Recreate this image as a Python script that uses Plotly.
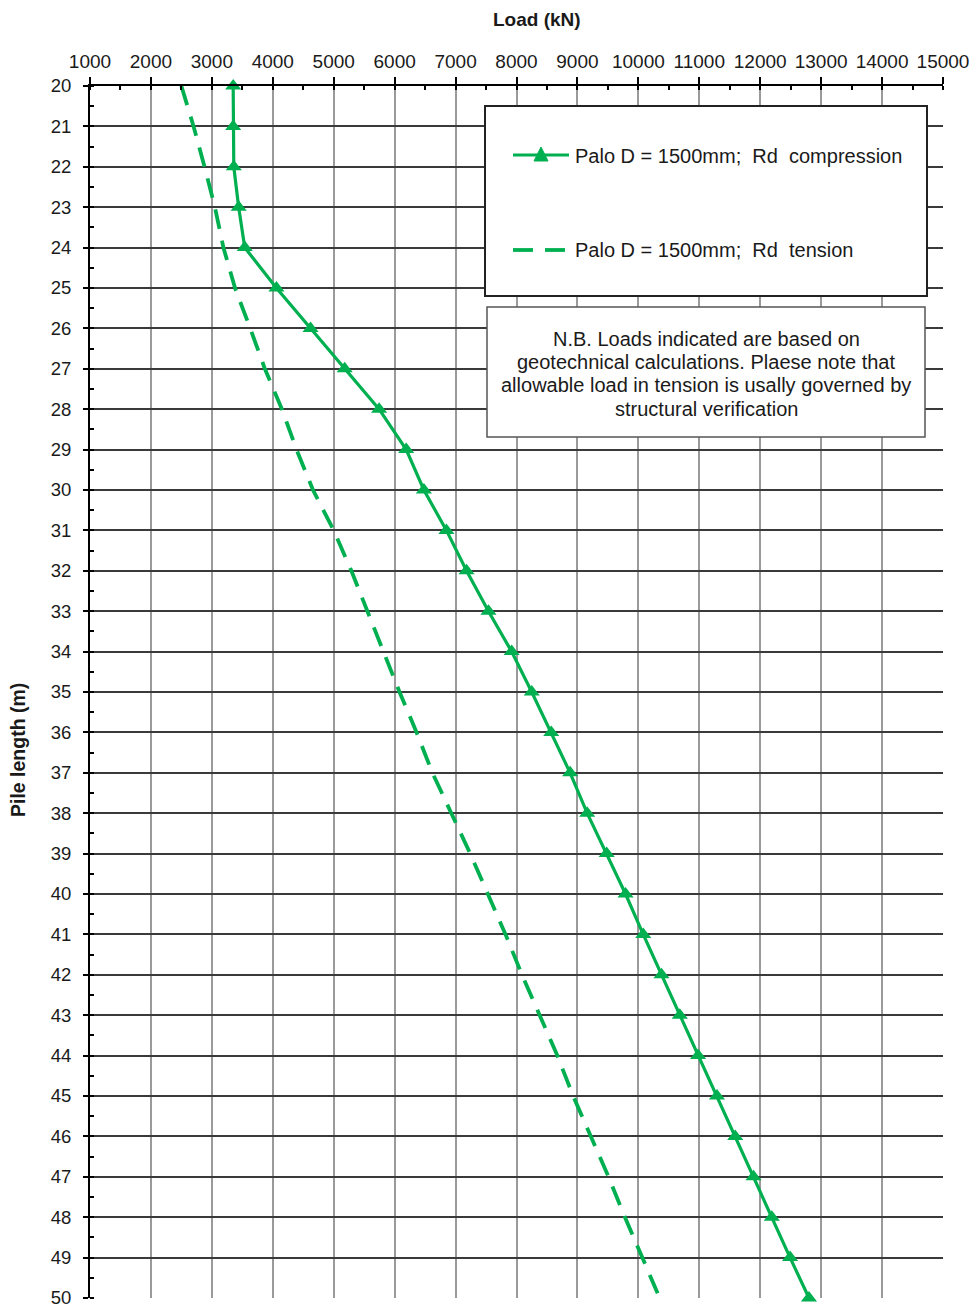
import plotly.graph_objects as go

# Pile length (m) and design resistance (kN) for a 1500 mm bored pile
pile_length = list(range(20, 51))
rd_compression = [
    3350, 3350, 3360, 3440, 3540, 4060, 4620, 5180, 5745, 6190,
    6480, 6850, 7180, 7540, 7920, 8250, 8570, 8880, 9160, 9480,
    9790, 10080, 10380, 10680, 10980, 11290, 11590, 11890, 12190, 12490,
    12800,
]
rd_tension = [
    2500, 2700, 2880, 3050, 3190, 3380, 3630, 3870, 4150, 4390,
    4660, 5000, 5290, 5550, 5810, 6080, 6360, 6620, 6930, 7240,
    7530, 7820, 8090, 8380, 8670, 8930, 9220, 9510, 9780, 10070,
    10350,
]
load_ticks = list(range(1000, 15001, 1000))
length_ticks = list(range(20, 51))

name_comp = "Palo D = 1500mm;  Rd  compression"
name_tens = "Palo D = 1500mm;  Rd  tension"
note_lines = [
    "N.B. Loads indicated are based on",
    "geotechnical calculations. Plaese note that",
    "allowable load in tension is usally governed by",
    "structural verification",
]

GREEN = "#00B050"
INK = "#1a1a1a"
FONT = "Liberation Sans, Arial, sans-serif"
W, H = 973, 1309
L, R, T, B = 90, 943, 86, 1298


def px(x):
    return (x - L) / (R - L)


def py(y):
    return 1 - (y - T) / (B - T)


def label(text, x, y, size=20, xanchor="left", **kw):
    return dict(text=text.replace("  ", " &nbsp;"), xref="paper", yref="paper",
                x=px(x), y=py(y), xanchor=xanchor, yanchor="middle",
                showarrow=False, font=dict(size=size, color=INK, family=FONT), **kw)


fig = go.Figure()
fig.add_trace(go.Scatter(
    x=rd_tension, y=pile_length, mode="lines", name=name_tens,
    line=dict(color=GREEN, width=3.8, dash="20px,12px"),
))
fig.add_trace(go.Scatter(
    x=rd_compression, y=pile_length, mode="lines+markers", name=name_comp,
    line=dict(color=GREEN, width=3.2),
    marker=dict(symbol="triangle-up", size=14, color=GREEN),
    cliponaxis=False,
))

shapes = [
    # legend frame
    dict(type="rect", xref="paper", yref="paper", x0=px(485), x1=px(927), y0=py(296), y1=py(106),
         line=dict(color="#222", width=2), fillcolor="white", layer="above"),
    # compression sample
    dict(type="line", xref="paper", yref="paper", x0=px(513), x1=px(569), y0=py(155), y1=py(155),
         line=dict(color=GREEN, width=3.2), layer="above"),
    dict(type="path", xref="paper", yref="paper",
         path=f"M {px(534)},{py(161)} L {px(548)},{py(161)} L {px(541)},{py(147)} Z",
         line=dict(color=GREEN, width=1), fillcolor=GREEN, layer="above"),
    # tension sample
    dict(type="line", xref="paper", yref="paper", x0=px(513), x1=px(533), y0=py(250), y1=py(250),
         line=dict(color=GREEN, width=3.8), layer="above"),
    dict(type="line", xref="paper", yref="paper", x0=px(545), x1=px(565), y0=py(250), y1=py(250),
         line=dict(color=GREEN, width=3.8), layer="above"),
    # note frame
    dict(type="rect", xref="paper", yref="paper", x0=px(487), x1=px(925), y0=py(437), y1=py(307),
         line=dict(color="#555", width=1.5), fillcolor="white", layer="above"),
]

annotations = [
    label("<b>Load (kN)</b>", 537, 20, size=19, xanchor="center"),
    label("<b>Pile length (m)</b>", 18, 750, size=19.5, xanchor="center", textangle=-90),
    label(name_comp, 573, 156),
    label(name_tens, 573, 250),
]
for line_text, y in zip(note_lines, [339, 362, 385, 409]):
    annotations.append(label(line_text, 706, y, xanchor="center"))

fig.update_layout(
    width=W, height=H,
    margin=dict(l=L, r=W - R, t=T, b=H - B, autoexpand=False),
    paper_bgcolor="white", plot_bgcolor="white",
    showlegend=False,
    font=dict(family=FONT, size=18, color=INK),
    shapes=shapes, annotations=annotations,
    xaxis=dict(
        side="top", range=[1000, 15000], tickvals=load_ticks, ticktext=[str(v) for v in load_ticks],
        showgrid=True, gridcolor="#9a9a9a", gridwidth=1.8,
        showline=True, linecolor="black", linewidth=2,
        ticks="outside", ticklen=7, tickwidth=1.5, tickcolor="black",
        minor=dict(dtick=500, tick0=1000, ticks="inside", ticklen=4, tickwidth=1.5,
                   tickcolor="black", showgrid=False),
        tickfont=dict(size=19), ticklabelstandoff=1, zeroline=False, fixedrange=True,
    ),
    yaxis=dict(
        range=[50, 20], tickvals=length_ticks, ticktext=[str(v) for v in length_ticks],
        showgrid=True, gridcolor="#3a3a3a", gridwidth=1.5,
        showline=True, linecolor="black", linewidth=2,
        ticks="outside", ticklen=5, tickwidth=1.5, tickcolor="black",
        minor=dict(dtick=0.5, tick0=20, ticks="inside", ticklen=4, tickwidth=1.5,
                   tickcolor="black", showgrid=False),
        tickfont=dict(size=18.5), ticklabelstandoff=8, zeroline=False, fixedrange=True,
    ),
)

fig.write_html("out.html")
